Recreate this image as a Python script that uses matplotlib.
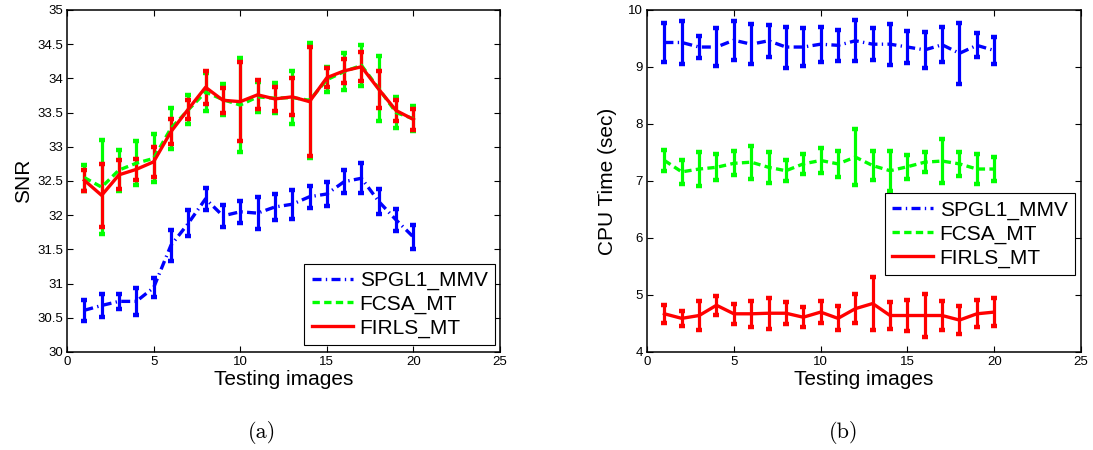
import numpy as np
import matplotlib
matplotlib.use("Agg")
import matplotlib.pyplot as plt
from matplotlib.lines import Line2D

images = np.arange(1, 21)

# SNR per test image (mean and error half-width)
snr_spgl1 = [30.61, 30.68, 30.74, 30.74, 30.94, 31.56, 31.88, 32.24, 31.99, 32.05,
             32.03, 32.12, 32.16, 32.27, 32.31, 32.49, 32.54, 32.20, 31.93, 31.68]
snr_spgl1_err = [0.15, 0.17, 0.11, 0.20, 0.14, 0.23, 0.19, 0.16, 0.16, 0.16,
                 0.23, 0.19, 0.21, 0.16, 0.18, 0.17, 0.22, 0.18, 0.16, 0.18]
snr_fcsa = [32.55, 32.41, 32.66, 32.76, 32.83, 33.27, 33.54, 33.80, 33.69, 33.61,
            33.73, 33.71, 33.72, 33.68, 33.98, 34.10, 34.19, 33.85, 33.50, 33.41]
snr_fcsa_err = [0.19, 0.69, 0.30, 0.32, 0.35, 0.30, 0.21, 0.28, 0.23, 0.69,
                0.22, 0.22, 0.39, 0.84, 0.18, 0.27, 0.30, 0.48, 0.23, 0.18]
snr_firls = [32.51, 32.29, 32.59, 32.67, 32.78, 33.22, 33.55, 33.87, 33.68, 33.66,
             33.76, 33.70, 33.73, 33.66, 34.01, 34.11, 34.17, 33.84, 33.53, 33.40]
snr_firls_err = [0.15, 0.46, 0.21, 0.15, 0.22, 0.18, 0.14, 0.24, 0.18, 0.58,
                 0.21, 0.17, 0.27, 0.80, 0.14, 0.18, 0.21, 0.27, 0.15, 0.15]

# CPU time per test image (mean and error half-width)
cpu_spgl1 = [9.43, 9.43, 9.35, 9.35, 9.47, 9.40, 9.46, 9.35, 9.35, 9.40,
             9.38, 9.46, 9.40, 9.40, 9.35, 9.30, 9.39, 9.24, 9.38, 9.29]
cpu_spgl1_err = [0.35, 0.38, 0.20, 0.33, 0.34, 0.35, 0.28, 0.36, 0.34, 0.31,
                 0.27, 0.36, 0.28, 0.36, 0.28, 0.31, 0.31, 0.54, 0.21, 0.23]
cpu_fcsa = [7.36, 7.16, 7.21, 7.24, 7.31, 7.33, 7.24, 7.18, 7.30, 7.36,
            7.30, 7.42, 7.27, 7.18, 7.25, 7.33, 7.35, 7.30, 7.21, 7.21]
cpu_fcsa_err = [0.18, 0.21, 0.30, 0.23, 0.21, 0.29, 0.27, 0.18, 0.18, 0.22,
                0.23, 0.49, 0.25, 0.35, 0.21, 0.18, 0.39, 0.21, 0.26, 0.21]
cpu_firls = [4.67, 4.59, 4.64, 4.82, 4.67, 4.67, 4.68, 4.68, 4.61, 4.70,
             4.59, 4.76, 4.85, 4.64, 4.64, 4.64, 4.64, 4.56, 4.67, 4.70]
cpu_firls_err = [0.16, 0.13, 0.26, 0.17, 0.18, 0.23, 0.27, 0.19, 0.18, 0.19,
                 0.21, 0.26, 0.47, 0.23, 0.28, 0.38, 0.25, 0.24, 0.24, 0.24]

method_names = ["SPGL1_MMV", "FCSA_MT", "FIRLS_MT"]
colors = ["#0000ff", "#00ff00", "#ff0000"]
styles = [(0, (2.7, 1.3, 0.4, 1.3)), (0, (2.2, 1.3)), "-"]

plt.rcParams["font.family"] = ["Liberation Sans", "DejaVu Sans"]

fig = plt.figure(figsize=(10.93, 4.5), dpi=100)
ax1 = fig.add_axes([0.0613, 0.2178, 0.3962, 0.76])
ax2 = fig.add_axes([0.592, 0.2178, 0.397, 0.76])


def draw_panel(ax, series, errs):
    for vals, err, col, ls in zip(series, errs, colors, styles):
        eb = ax.errorbar(images, vals, yerr=err, color=col, ecolor=col,
                         linewidth=2.4, elinewidth=2.3, capsize=2.3, capthick=3.2)
        eb.lines[0].set_linestyle(ls)
    ax.set_xlim(0, 25)
    ax.set_xticks(np.arange(0, 26, 5))
    ax.tick_params(direction="in", top=True, right=True, labelsize=9.5,
                   length=4, width=0.8, pad=3)
    for sp in ax.spines.values():
        sp.set_linewidth(1.1)
    ax.set_xlabel("Testing images", fontsize=15, labelpad=1)


draw_panel(ax1, [snr_spgl1, snr_fcsa, snr_firls],
           [snr_spgl1_err, snr_fcsa_err, snr_firls_err])
ax1.set_ylim(30, 35)
ax1.set_yticks(np.arange(30, 35.01, 0.5))
ax1.set_yticklabels(["30", "30.5", "31", "31.5", "32", "32.5", "33", "33.5",
                     "34", "34.5", "35"])
ax1.set_ylabel("SNR", fontsize=15, labelpad=3)

draw_panel(ax2, [cpu_spgl1, cpu_fcsa, cpu_firls],
           [cpu_spgl1_err, cpu_fcsa_err, cpu_firls_err])
ax2.set_ylim(4, 10)
ax2.set_yticks(np.arange(4, 11, 1))
ax2.set_ylabel("CPU Time (sec)", fontsize=15, labelpad=8)

handles = [Line2D([], [], color=c, linestyle=s, linewidth=2.4)
           for c, s in zip(colors, styles)]
for ax, loc, anchor in [(ax1, "lower right", (0.988, 0.02)),
                        (ax2, "upper right", (0.986, 0.464))]:
    leg = ax.legend(handles, method_names, loc=loc, bbox_to_anchor=anchor,
                    fontsize=15, fancybox=False, framealpha=1,
                    edgecolor="black", handlelength=2.0, handletextpad=0.3,
                    labelspacing=0.22, borderpad=0.35, borderaxespad=0.0)
    leg.get_frame().set_linewidth(0.8)

fig.text(0.240, 0.027, "(a)", fontsize=16, family="cmr10", ha="center")
fig.text(0.772, 0.027, "(b)", fontsize=16, family="cmr10", ha="center")

fig.savefig("out.png", dpi=100)
